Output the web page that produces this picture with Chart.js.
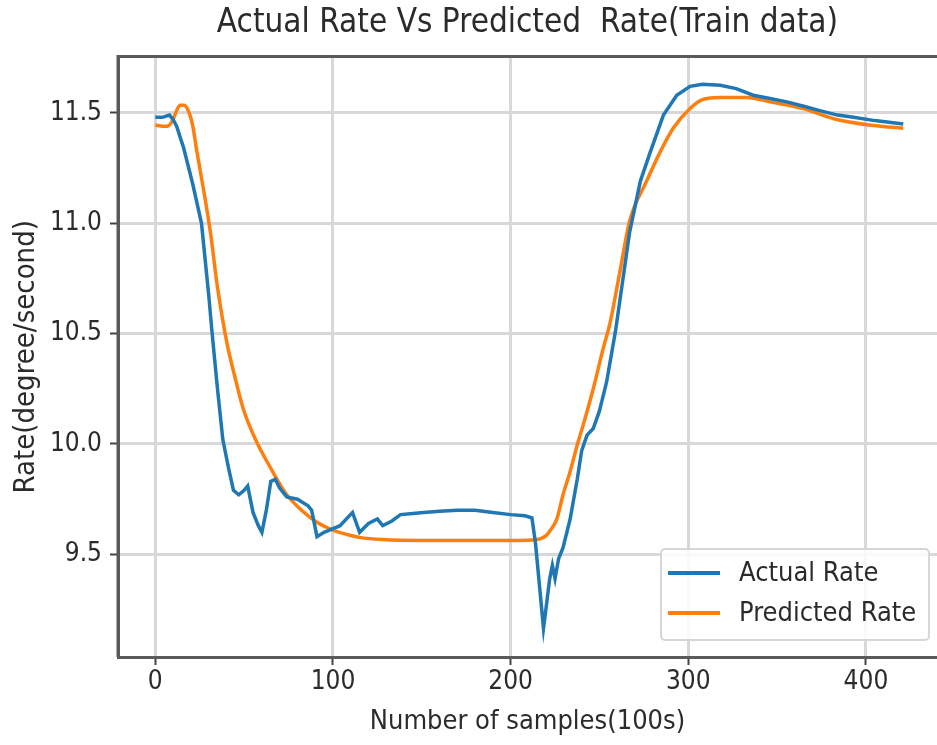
<!DOCTYPE html>
<html>
<head>
<meta charset="utf-8">
<script src="https://cdn.jsdelivr.net/npm/chart.js@4/dist/chart.umd.min.js"></script>
<style>
  html, body { margin: 0; padding: 0; background: #fff; }
  #wrap { width: 937px; height: 745px; }
</style>
</head>
<body>
<div id="wrap"><canvas id="rate-chart"></canvas></div>
<script>
const chartTitle = 'Actual Rate Vs Predicted  Rate(Train data)';
const xTitle = 'Number of samples(100s)';
const yTitle = 'Rate(degree/second)';
const xTicks = [0, 100, 200, 300, 400];
const yTicks = [9.5, 10.0, 10.5, 11.0, 11.5];

// Actual Rate (blue)
const actualX = [0, 4, 8, 10, 12, 16, 21, 26, 30, 32, 35, 38, 41, 44, 47, 50, 52, 55, 58, 60, 62.5, 65, 67.5, 70, 74, 80, 86, 88, 91, 95, 98, 104, 111, 115, 120, 125, 128, 133, 138, 145, 151, 160, 170, 180, 190, 200, 208, 212, 214, 218.5, 220, 222, 223.5, 225, 227, 229.5, 233.5, 237.5, 240, 243, 246.5, 250, 254, 259, 263, 267, 273, 278.5, 286, 293.5, 301, 308, 318, 327, 336.5, 346, 355.5, 365, 374, 384, 393, 405, 421];
const actualY = [11.48, 11.48, 11.49, 11.47, 11.44, 11.34, 11.18, 11.0, 10.68, 10.5, 10.25, 10.02, 9.9, 9.79, 9.77, 9.79, 9.81, 9.69, 9.63, 9.6, 9.7, 9.83, 9.84, 9.8, 9.76, 9.75, 9.72, 9.7, 9.58, 9.6, 9.61, 9.63, 9.69, 9.6, 9.64, 9.66, 9.63, 9.65, 9.68, 9.685, 9.69, 9.695, 9.7, 9.7, 9.69, 9.68, 9.675, 9.665, 9.55, 9.165, 9.26, 9.39, 9.45, 9.39, 9.48, 9.53, 9.66, 9.84, 9.97, 10.04, 10.07, 10.15, 10.28, 10.51, 10.735, 10.96, 11.19, 11.32, 11.49, 11.58, 11.62, 11.63, 11.625, 11.61, 11.58, 11.565, 11.55, 11.53, 11.51, 11.49, 11.48, 11.465, 11.45];

// Predicted Rate (orange)
const predictedX = [0, 4, 7, 10, 12, 14, 16, 18, 21, 23.5, 27, 31, 35, 40.5, 44, 49.5, 57, 65, 68.5, 74, 83, 91, 100, 108, 115, 128, 150, 180, 200, 212, 216.5, 220, 222, 226, 229.5, 233.5, 238, 241, 246.5, 252, 256, 261.5, 267, 276.5, 284, 291.5, 301, 308, 318, 333, 346, 364.5, 383.5, 402, 421];
const predictedY = [11.445, 11.44, 11.44, 11.47, 11.51, 11.535, 11.535, 11.52, 11.445, 11.32, 11.16, 10.96, 10.71, 10.45, 10.33, 10.16, 10.01, 9.89, 9.84, 9.77, 9.695, 9.645, 9.61, 9.59, 9.577, 9.567, 9.563, 9.563, 9.563, 9.565, 9.57, 9.585, 9.605, 9.66, 9.77, 9.875, 10.01, 10.09, 10.25, 10.43, 10.55, 10.78, 11.01, 11.19, 11.32, 11.43, 11.52, 11.56, 11.57, 11.57, 11.55, 11.52, 11.47, 11.445, 11.43];

const FONT = "'DejaVu Sans Condensed', 'DejaVu Sans', sans-serif";
const textColor = '#2b2b2b';

const toPoints = (xs, ys) => xs.map((x, i) => ({x: x, y: ys[i]}));

// matplotlib-like frame + legend box in the lower right
const framePlugin = {
  id: 'frame-and-legend',
  afterDraw(chart) {
    const ctx = chart.ctx;
    const a = chart.chartArea;
    ctx.save();
    ctx.strokeStyle = '#5a5a5a';
    ctx.lineWidth = 3;
    ctx.beginPath();
    ctx.moveTo(a.left, a.bottom);
    ctx.lineTo(a.left, a.top);
    ctx.lineTo(a.right + 2, a.top);
    ctx.stroke();

    // legend
    const bx = 661, by = 549, bw = 268, bh = 91;
    ctx.fillStyle = 'rgba(255,255,255,0.85)';
    ctx.strokeStyle = '#d6d6d6';
    ctx.lineWidth = 2;
    ctx.beginPath();
    ctx.roundRect(bx, by, bw, bh, 4);
    ctx.fill();
    ctx.stroke();
    ctx.font = '27px ' + FONT;
    ctx.textBaseline = 'middle';
    chart.data.datasets.forEach((ds, i) => {
      const y = 573 + i * 40;
      ctx.strokeStyle = ds.borderColor;
      ctx.lineWidth = 4;
      ctx.beginPath();
      ctx.moveTo(668, y);
      ctx.lineTo(720, y);
      ctx.stroke();
      ctx.fillStyle = textColor;
      ctx.fillText(ds.label, 739, y + 1);
    });
    ctx.restore();
  }
};

new Chart(document.getElementById('rate-chart').getContext('2d'), {
  type: 'line',
  data: {
    datasets: [
      {
        label: 'Actual Rate',
        data: toPoints(actualX, actualY),
        borderColor: '#1f77b4',
        borderWidth: 3.5,
        pointRadius: 0,
        tension: 0
      },
      {
        label: 'Predicted Rate',
        data: toPoints(predictedX, predictedY),
        borderColor: '#ff7f0e',
        borderWidth: 3.5,
        pointRadius: 0,
        cubicInterpolationMode: 'monotone'
      }
    ]
  },
  options: {
    responsive: true,
    maintainAspectRatio: false,
    animation: false,
    layout: { padding: 0 },
    plugins: {
      legend: { display: false },
      tooltip: { enabled: false },
      title: {
        display: true,
        fullSize: false,
        text: chartTitle,
        color: textColor,
        font: { family: FONT, size: 33, weight: 'normal' },
        padding: { top: 4, bottom: 13 }
      }
    },
    scales: {
      x: {
        type: 'linear',
        min: -21,
        max: 440,
        afterBuildTicks: s => { s.ticks = xTicks.map(v => ({value: v})); },
        afterFit: s => { s.height = 88; },
        ticks: { color: textColor, font: { family: FONT, size: 26 }, padding: 2, maxRotation: 0 },
        grid: { color: '#d8d8d8', lineWidth: 3, tickColor: '#444', tickLength: 8, tickWidth: 2 },
        border: { color: '#5a5a5a', width: 3 },
        title: { display: true, text: xTitle, color: textColor, font: { family: FONT, size: 27 }, padding: { top: 0, bottom: 7 } }
      },
      y: {
        type: 'linear',
        min: 9.035,
        max: 11.755,
        afterBuildTicks: s => { s.ticks = yTicks.map(v => ({value: v})); },
        afterFit: s => { s.width = 118; },
        ticks: { color: textColor, font: { family: FONT, size: 26 }, padding: 8, callback: v => v.toFixed(1) },
        grid: { color: '#d8d8d8', lineWidth: 3, tickColor: '#444', tickLength: 8, tickWidth: 2 },
        border: { color: '#5a5a5a', width: 3 },
        title: { display: true, text: yTitle, color: textColor, font: { family: FONT, size: 29 }, padding: { top: 9, bottom: 0 } }
      }
    }
  },
  plugins: [framePlugin]
});
</script>
</body>
</html>
